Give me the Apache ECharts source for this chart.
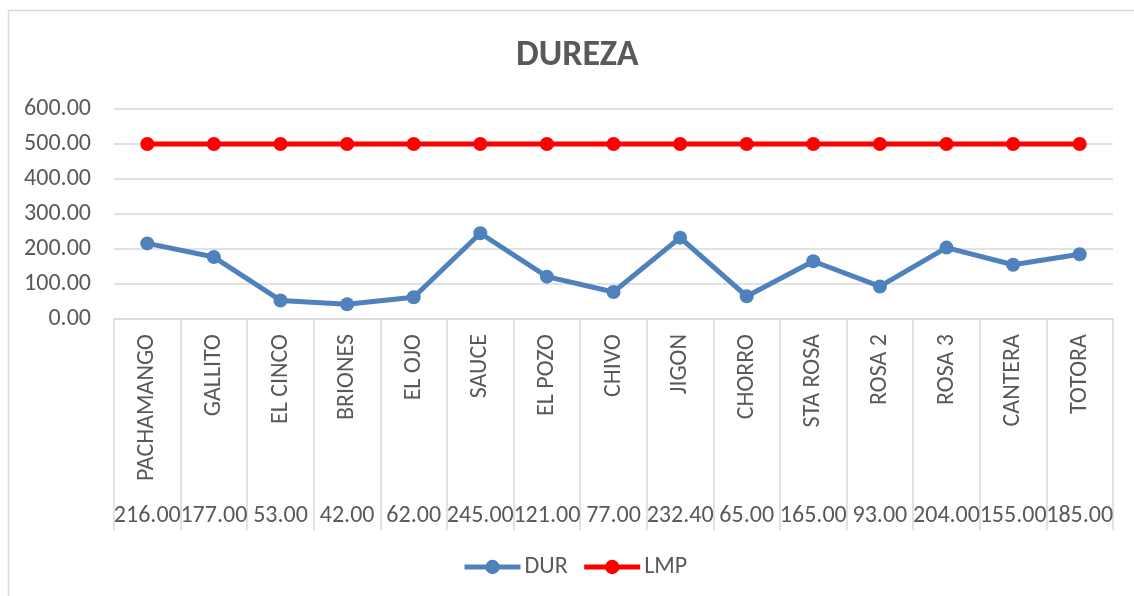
<!DOCTYPE html>
<html>
<head>
<meta charset="utf-8">
<script src="https://cdn.jsdelivr.net/npm/echarts@6/dist/echarts.min.js"></script>
<style>
  html, body { margin: 0; padding: 0; background: #fff; }
  #chart { width: 1134px; height: 596px; }
</style>
</head>
<body>
<div id="chart"></div>
<script>
// Sampling stations
const categories = ['PACHAMANGO', 'GALLITO', 'EL CINCO', 'BRIONES', 'EL OJO', 'SAUCE', 'EL POZO',
  'CHIVO', 'JIGON', 'CHORRO', 'STA ROSA', 'ROSA 2', 'ROSA 3', 'CANTERA', 'TOTORA'];
// Measured hardness (DUR)
const durValues = [216, 177, 53, 42, 62, 245, 121, 77, 232.4, 65, 165, 93, 204, 155, 185];
// Maximum permissible limit (LMP)
const lmpValues = [500, 500, 500, 500, 500, 500, 500, 500, 500, 500, 500, 500, 500, 500, 500];
// Value axis
const yMin = 0, yMax = 600, yStep = 100;

const FONT = "Carlito, 'Liberation Sans', Arial, sans-serif";
const TEXT = '#595959';
const RULE = '#d9d9d9';
const FS = 24;

const chart = echarts.init(document.getElementById('chart'), null, { renderer: 'canvas' });

chart.setOption({
  backgroundColor: '#ffffff',
  animation: false,
  textStyle: { fontFamily: FONT },
  graphic: [{
    type: 'rect',
    shape: { x: 8.5, y: 10.5, width: 1200, height: 700 },
    style: { fill: 'none', stroke: RULE, lineWidth: 1.5 },
    silent: true,
    z: -10
  }],
  title: {
    text: 'DUREZA',
    left: 511,
    top: 33,
    textStyle: { fontFamily: FONT, fontSize: 36, fontWeight: 'bold', color: TEXT }
  },
  legend: {
    bottom: 12,
    left: 457,
    itemWidth: 56,
    itemHeight: 18,
    itemGap: 14,
    lineStyle: { width: 5 },
    textStyle: { fontFamily: FONT, fontSize: FS, color: TEXT, padding: [0, 0, 0, -1] },
    data: ['DUR', 'LMP']
  },
  grid: { left: 114, right: 21, top: 109, bottom: 277, containLabel: false },
  xAxis: [{
    type: 'category',
    data: categories,
    boundaryGap: true,
    axisLine: { lineStyle: { color: RULE, width: 1.5 } },
    axisTick: { show: true, length: 211, lineStyle: { color: RULE, width: 1.5 } },
    axisLabel: {
      rotate: 90,
      margin: 15,
      interval: 0,
      fontFamily: FONT,
      fontSize: FS,
      color: TEXT
    }
  }, {
    // Data-table row with the measured values under each station
    type: 'category',
    position: 'bottom',
    data: durValues.map(v => v.toFixed(2)),
    boundaryGap: true,
    axisLine: { show: false },
    axisTick: { show: false },
    axisLabel: {
      interval: 0,
      margin: 197,
      verticalAlign: 'middle',
      fontFamily: FONT,
      fontSize: FS,
      color: TEXT
    }
  }],
  yAxis: {
    type: 'value',
    min: yMin,
    max: yMax,
    interval: yStep,
    axisLine: { show: false },
    axisTick: { show: false },
    axisLabel: {
      margin: 23,
      fontFamily: FONT,
      fontSize: FS,
      color: TEXT,
      formatter: v => v.toFixed(2)
    },
    splitLine: { lineStyle: { color: RULE, width: 1.5 } }
  },
  series: [{
    name: 'DUR',
    type: 'line',
    data: durValues,
    symbol: 'circle',
    symbolSize: 14,
    color: '#4f81bd',
    lineStyle: { width: 5, color: '#4f81bd' },
    itemStyle: { color: '#4f81bd' }
  }, {
    name: 'LMP',
    type: 'line',
    data: lmpValues,
    symbol: 'circle',
    symbolSize: 14,
    color: '#ff0000',
    lineStyle: { width: 5, color: '#ff0000' },
    itemStyle: { color: '#ff0000' }
  }]
});
</script>
</body>
</html>
